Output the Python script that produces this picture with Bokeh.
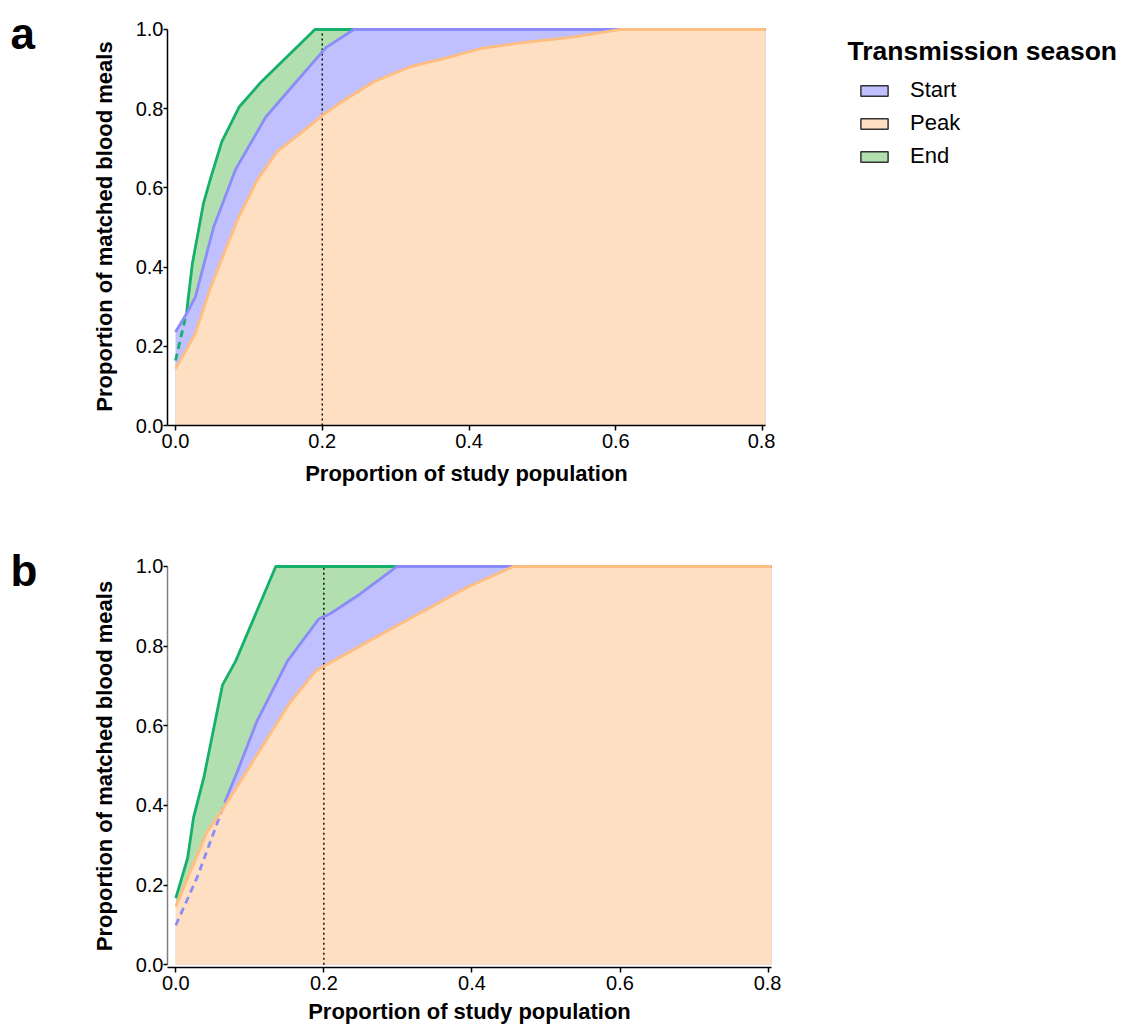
from bokeh.plotting import figure
from bokeh.layouts import column, row
from bokeh.models import Range1d, FixedTicker, PrintfTickFormatter, Legend, LegendItem
from bokeh.core.properties import value
from bokeh.embed import file_html
from bokeh.resources import INLINE

FONT = "Liberation Sans"

season_names = ["Start", "Peak", "End"]
legend_title = "Transmission season"
panel_letters = ["a", "b"]
x_ticks = [0.0, 0.2, 0.4, 0.6, 0.8]
y_ticks = [0.0, 0.2, 0.4, 0.6, 0.8, 1.0]
cutoff = 0.2

# ---- Panel a ----
a_start_x = [0.0, 0.015, 0.027, 0.052, 0.082, 0.123, 0.205, 0.243, 0.81]
a_start_y = [0.236, 0.282, 0.324, 0.501, 0.647, 0.779, 0.954, 1.0, 1.0]
a_peak_x = [0.0, 0.027, 0.048, 0.084, 0.111, 0.139, 0.170, 0.200, 0.223, 0.270,
            0.320, 0.375, 0.416, 0.470, 0.539, 0.607, 0.81]
a_peak_y = [0.143, 0.232, 0.350, 0.518, 0.619, 0.693, 0.737, 0.783, 0.813, 0.868,
            0.906, 0.931, 0.952, 0.966, 0.980, 1.0, 1.0]
a_end_x = [0.0, 0.015, 0.023, 0.038, 0.047, 0.063, 0.087, 0.116, 0.190, 0.81]
a_end_y = [0.164, 0.284, 0.409, 0.560, 0.619, 0.716, 0.805, 0.866, 1.0, 1.0]
a_dashed_points = {"Start": 0, "Peak": 0, "End": 2}

# ---- Panel b ----
b_start_x = [0.0, 0.029, 0.069, 0.081, 0.110, 0.151, 0.193, 0.209, 0.249, 0.299, 0.81]
b_start_y = [0.099, 0.220, 0.421, 0.475, 0.613, 0.763, 0.868, 0.882, 0.931, 1.0, 1.0]
b_peak_x = [0.0, 0.042, 0.065, 0.153, 0.189, 0.209, 0.294, 0.393, 0.456, 0.81]
b_peak_y = [0.146, 0.333, 0.395, 0.655, 0.738, 0.759, 0.847, 0.947, 1.0, 1.0]
b_end_x = [0.0, 0.016, 0.024, 0.038, 0.063, 0.081, 0.135, 0.81]
b_end_y = [0.167, 0.268, 0.370, 0.471, 0.702, 0.763, 1.0, 1.0]
b_dashed_points = {"Start": 3, "Peak": 0, "End": 0}

line_colors = {"Start": "#8C8CF8", "Peak": "#FFBE80", "End": "#16B06C"}
fill_colors = {"Start": "#C0C0FF", "Peak": "#FEDFC1", "End": "#B1DFB0"}
draw_order = ["End", "Start", "Peak"]


def build_panel(data, dashed, x_rng, y_rng, fw, fh, borders, yaxis_color, xlabel_standoff):
    p = figure(frame_width=fw, frame_height=fh, title=None,
               x_range=Range1d(*x_rng), y_range=Range1d(*y_rng),
               output_backend="svg", toolbar_location=None,
               min_border_left=borders[0], min_border_right=borders[1],
               min_border_top=borders[2], min_border_bottom=borders[3])
    p.frame_align = False
    p.grid.visible = False
    p.outline_line_color = None
    p.background_fill_color = "white"

    for name in draw_order:
        xs, ys = data[name]
        p.varea(x=xs, y1=[0] * len(xs), y2=ys, fill_color=fill_colors[name])

    p.segment(x0=[cutoff], y0=[0], x1=[cutoff], y1=[1], line_color="black",
              line_width=1.4, line_dash="2 3")

    for name in draw_order:
        xs, ys = data[name]
        k = dashed[name]
        if k > 0:
            p.line(xs[:k], ys[:k], line_color=line_colors[name], line_width=2.8,
                   line_dash="7 5")
            xs, ys = xs[k - 1:], ys[k - 1:]
        p.line(xs, ys, line_color=line_colors[name], line_width=2.8, line_join="round")

    p.xaxis.ticker = FixedTicker(ticks=x_ticks)
    p.yaxis.ticker = FixedTicker(ticks=y_ticks)
    for ax in (p.xaxis[0], p.yaxis[0]):
        ax.formatter = PrintfTickFormatter(format="%.1f")
        ax.major_label_text_font = FONT
        ax.major_label_text_font_size = "20px"
        ax.major_label_text_color = "black"
        ax.axis_label_text_font = FONT
        ax.axis_label_text_font_size = "22px"
        ax.axis_label_text_font_style = "bold"
        ax.axis_label_text_color = "black"
        ax.major_tick_in = 0
        ax.minor_tick_out = 0
        ax.minor_tick_in = 0
        ax.major_tick_line_width = 1.5
        ax.axis_line_width = 1.5
        ax.major_tick_line_color = "black"
    p.xaxis.major_tick_out = 5
    p.yaxis.major_tick_out = 4
    p.xaxis.axis_line_color = "black"
    p.yaxis.axis_line_color = yaxis_color
    p.xaxis.axis_label = "Proportion of study population"
    p.yaxis.axis_label = "Proportion of matched blood meals"
    p.yaxis.bounds = (0, 1)
    p.xaxis.major_label_standoff = 3
    p.yaxis.major_label_standoff = 0
    p.xaxis.axis_label_standoff = xlabel_standoff
    p.yaxis.axis_label_standoff = 16
    return p


def letter_fig(letter, h, baseline_from_top):
    f = figure(width=60, height=h, title=None, x_range=Range1d(0, 60), y_range=Range1d(0, h),
               min_border=0, toolbar_location=None, output_backend="svg",
               x_axis_type=None, y_axis_type=None)
    f.frame_align = False
    f.grid.visible = False
    f.outline_line_color = None
    f.text(x=[10], y=[h - baseline_from_top], text=[letter], text_font=value(FONT),
           text_font_size="44px", text_font_style="bold", text_color="black",
           text_baseline="alphabetic", text_align="left")
    return f


data_a = {"Start": (a_start_x, a_start_y), "Peak": (a_peak_x, a_peak_y), "End": (a_end_x, a_end_y)}
data_b = {"Start": (b_start_x, b_start_y), "Peak": (b_peak_x, b_peak_y), "End": (b_end_x, b_end_y)}

p_a = build_panel(data_a, a_dashed_points, (-0.0109, 0.804), (0, 1.005), 598, 398,
                  (107, 10, 27, 90), "black", 10)
p_b = build_panel(data_b, b_dashed_points, (-0.0112, 0.8046), (-0.007, 1.005), 604, 403,
                  (107, 10, 49, 55), "#808080", 6)

let_a = letter_fig(panel_letters[0], 100, 33)
let_b = letter_fig(panel_letters[1], 100, 55)

# ---- Legend panel ----
p_leg = figure(width=345, height=220, x_range=Range1d(0, 1), y_range=Range1d(0, 1),
               min_border_left=82, min_border_top=77, min_border_right=0, min_border_bottom=0,
               toolbar_location=None, output_backend="svg",
               x_axis_type=None, y_axis_type=None)
p_leg.frame_align = False
p_leg.grid.visible = False
p_leg.outline_line_color = None
p_leg.title.text = legend_title
p_leg.title.align = "left"
p_leg.title.offset = -10
p_leg.title.standoff = 23
p_leg.title.text_font = FONT
p_leg.title.text_font_size = "26.5px"
p_leg.title.text_font_style = "bold"
p_leg.title.text_color = "black"

nan = float("nan")
leg_renderers = []
for n in season_names:
    r = p_leg.quad(left=[nan], right=[nan], top=[nan], bottom=[nan], fill_color=fill_colors[n],
                   line_color="#333333", line_width=1.5)
    leg_renderers.append(r)
legend = Legend(items=[LegendItem(label=n, renderers=[r]) for n, r in zip(season_names, leg_renderers)],
                location="top_left", glyph_width=34, glyph_height=13, label_standoff=19,
                spacing=7, padding=0, margin=0, border_line_color=None,
                background_fill_alpha=0, label_text_font=FONT, label_text_font_size="22px",
                label_text_color="black", label_height=26)
p_leg.add_layout(legend)

layout = column(row(let_a, p_a, p_leg), row(let_b, p_b))

open("out.html", "w").write(file_html(layout, INLINE))
